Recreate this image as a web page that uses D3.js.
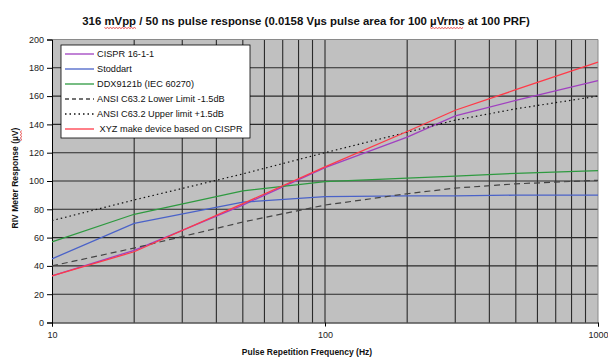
<script src='https://cdn.jsdelivr.net/npm/d3@7'></script>

<style>
  body { margin: 0; background: #fff; }
  svg text { font-family: "Liberation Sans", Arial, sans-serif; fill: #111; }
  .tick text { font-size: 9px; fill: #222; }
</style>

<body>
<script>
  var freqs = [10, 20, 50, 100, 200, 300, 500, 1000];

  var cispr    = [33, 51, 83, 109.5, 131, 146, 157, 171];
  var stoddart = [45, 70, 85, 89, 89.5, 89.5, 90, 90];
  var ddx      = [57, 76.5, 93, 99.5, 102, 103.5, 105.4, 107.3];
  var lower    = [40, 52.6, 71, 83, 91, 95, 98, 100.5];
  var upper    = [72, 86.6, 105, 120, 134.5, 143, 151, 160];
  var xyz      = [33, 50, 84, 110, 135, 150, 164.5, 184];

  var yTicks = [0, 20, 40, 60, 80, 100, 120, 140, 160, 180, 200];
  var xTicks = [10, 100, 1000];

  var series = [
    { name: "CISPR 16-1-1", values: cispr, color: "#a040c0", dash: null },
    { name: "Stoddart", values: stoddart, color: "#4a62c8", dash: null },
    { name: "DDX9121b (IEC 60270)", values: ddx, color: "#2e9a40", dash: null },
    { name: "ANSI C63.2 Lower Limit -1.5dB", values: lower, color: "#444", dash: "6,4" },
    { name: "ANSI C63.2 Upper limit +1.5dB", values: upper, color: "#111", dash: "1.5,3" },
    { name: " XYZ make device based on CISPR", values: xyz, color: "#ff3a48", dash: null }
  ];

  var W = 608, H = 358;
  var pL = 52, pR = 598, pT = 39.5, pB = 322.5;

  var svg = d3.select("body").append("svg")
    .attr("width", W).attr("height", H);

  var x = d3.scaleLog().domain([10, 1000]).range([pL, pR]);
  var y = d3.scaleLinear().domain([0, 200]).range([pB, pT]);

  // plot background
  svg.append("rect")
    .attr("x", pL).attr("y", pT)
    .attr("width", pR - pL).attr("height", pB - pT)
    .attr("fill", "#c0c0c0");

  // grid
  var minor = [];
  [10, 100].forEach(function(d) {
    for (var k = 2; k <= 9; k++) minor.push(d * k);
  });
  minor.push(100);

  svg.append("g").selectAll("line").data(minor).enter().append("line")
    .attr("x1", function(d) { return x(d); }).attr("x2", function(d) { return x(d); })
    .attr("y1", pT).attr("y2", pB)
    .attr("stroke", "#2a2a2a").attr("stroke-width", 1.1);

  svg.append("g").selectAll("line").data(yTicks.slice(1, -1)).enter().append("line")
    .attr("x1", pL).attr("x2", pR)
    .attr("y1", function(d) { return y(d); }).attr("y2", function(d) { return y(d); })
    .attr("stroke", "#2a2a2a").attr("stroke-width", 1.1);

  // top / right border
  svg.append("path")
    .attr("d", "M" + pL + "," + pT + "H" + pR + "V" + pB)
    .attr("fill", "none").attr("stroke", "#8a8a8a");

  // axes
  svg.append("g")
    .attr("transform", "translate(" + pL + ",0)")
    .call(d3.axisLeft(y).tickValues(yTicks).tickSize(5).tickPadding(3));
  svg.append("g")
    .attr("transform", "translate(0," + pB + ")")
    .call(d3.axisBottom(x).tickValues(xTicks).tickFormat(d3.format("d")).tickSize(4).tickPadding(5));
  svg.selectAll(".domain").attr("stroke", "#000");
  svg.selectAll(".tick line").attr("stroke", "#000");

  // lines
  var line = d3.line()
    .x(function(d, i) { return x(freqs[i]); })
    .y(function(d) { return y(d); });

  svg.append("g").selectAll("path").data(series).enter().append("path")
    .attr("d", function(s) { return line(s.values); })
    .attr("fill", "none")
    .attr("stroke", function(s) { return s.color; })
    .attr("stroke-width", function(s) { return s.dash ? 1.2 : 1.3; })
    .attr("stroke-dasharray", function(s) { return s.dash; });

  // legend
  var lg = svg.append("g").attr("transform", "translate(61,45)");
  lg.append("rect")
    .attr("width", 189).attr("height", 93)
    .attr("fill", "#fff").attr("stroke", "#000").attr("stroke-width", 0.8);

  var item = lg.selectAll("g.item").data(series).enter().append("g")
    .attr("transform", function(d, i) { return "translate(0," + (9 + i * 15) + ")"; });
  item.append("line")
    .attr("x1", 4).attr("x2", 33)
    .attr("stroke", function(s) { return s.color; })
    .attr("stroke-width", 1.3)
    .attr("stroke-dasharray", function(s) { return s.dash ? (s.dash == "6,4" ? "4,3" : "1.5,3") : null; });
  item.append("text")
    .attr("x", 36).attr("dy", "0.35em")
    .style("font-size", "9.2px")
    .attr("xml:space", "preserve")
    .text(function(s) { return s.name; });

  // titles
  var title = svg.append("text")
    .attr("x", 306).attr("y", 25)
    .attr("text-anchor", "middle")
    .style("font-size", "11.4px").style("font-weight", "bold")
    .text("316 mVpp / 50 ns pulse response (0.0158 V\u00b5s pulse area for 100 \u00b5Vrms at 100 PRF)");

  svg.append("text")
    .attr("x", 307).attr("y", 355)
    .attr("text-anchor", "middle")
    .style("font-size", "8.5px").style("font-weight", "bold")
    .text("Pulse Repetition Frequency (Hz)");

  var ylab = svg.append("text")
    .attr("transform", "translate(18,178) rotate(-90)")
    .attr("text-anchor", "middle")
    .style("font-size", "8.5px").style("font-weight", "bold")
    .text("RIV Meter Response (\u00b5V)");

  // spell-check squiggles under some words
  function squiggle(textSel, word) {
    var node = textSel.node();
    var str = node.textContent;
    var i = str.indexOf(word);
    if (i < 0) return;
    var start = node.getStartPositionOfChar(i);
    var w = node.getSubStringLength(i, word.length);
    var pts = [];
    for (var k = 0; k <= w; k += 1.5) pts.push([start.x + k, start.y + 2.5 + (Math.round(k / 1.5) % 2 ? 1 : 0)]);
    var g = textSel.attr("transform") ? svg.append("g").attr("transform", textSel.attr("transform")) : svg;
    g.append("path")
      .attr("d", d3.line()(pts))
      .attr("fill", "none").attr("stroke", "#e02020").attr("stroke-width", 0.8);
  }
  squiggle(title, "mVpp");
  squiggle(title, "\u00b5Vrms");
  squiggle(ylab, "\u00b5V");
</script>
</body>
